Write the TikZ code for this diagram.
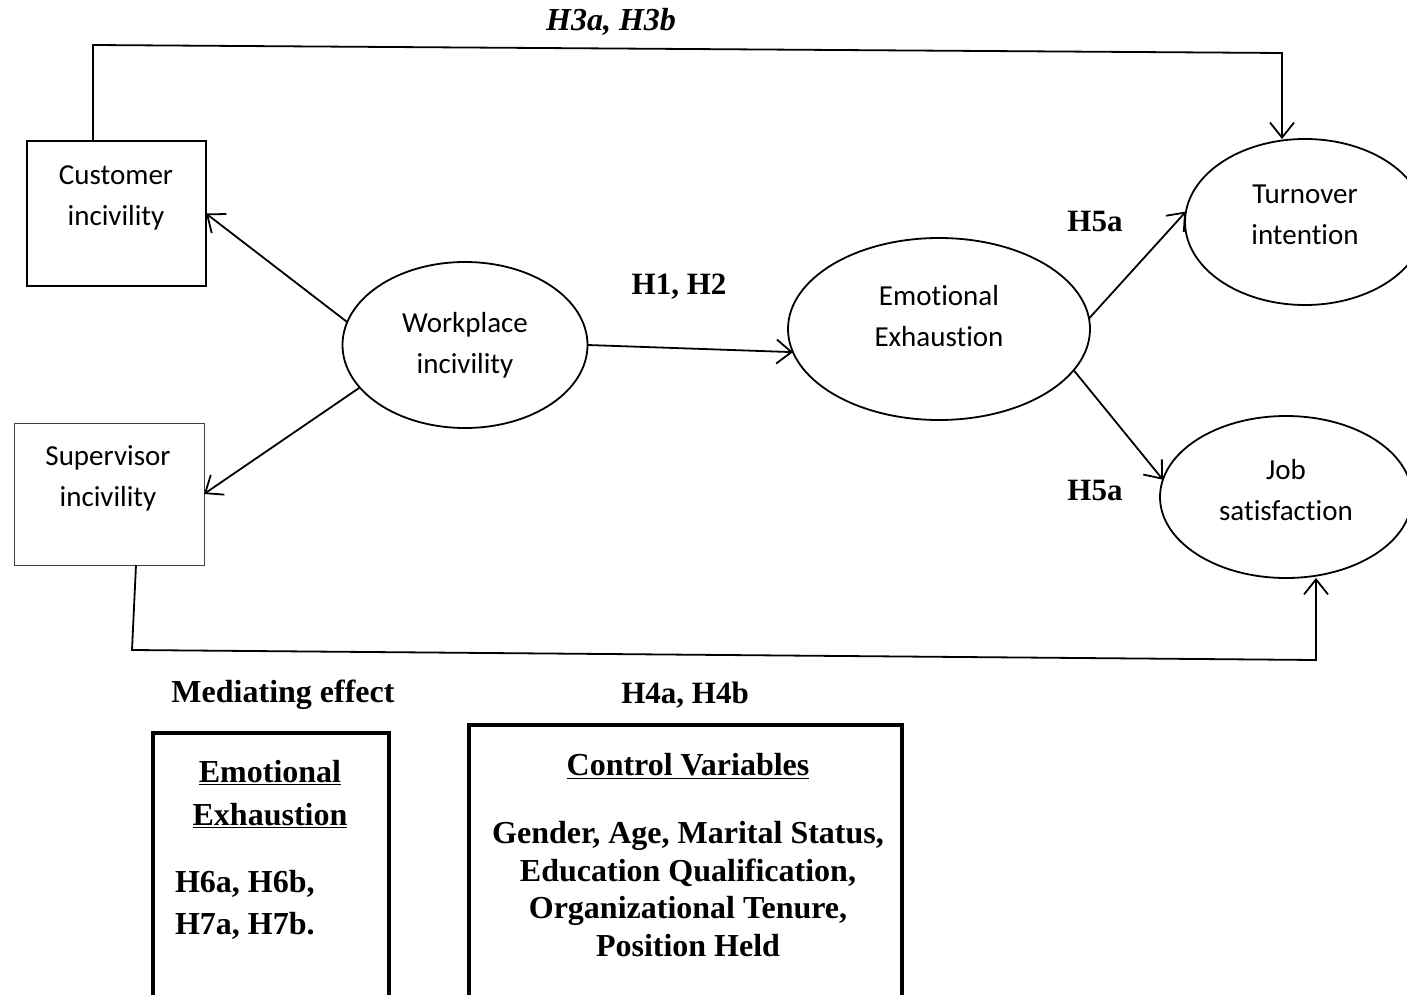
\documentclass[tikz,border=0pt]{standalone}
\usepackage{fontspec}
\setmainfont{Liberation Serif}
\newfontfamily\varfont[Ligatures=NoCommon]{Carlito}
\usetikzlibrary{arrows.meta, shapes.geometric}

\begin{document}
\begin{tikzpicture}
    [
		x=1pt, y=-1pt,
		every node/.style={inner sep=0pt, outer sep=0pt},
		latent/.style 2 args={
			draw, ellipse, line width=1.8pt, minimum width=#1, minimum height=#2
		},
		observed/.style 2 args={
			draw, rectangle, line width=1.8pt, minimum width=#1, minimum height=#2
		},
		frame/.style 2 args={
			draw, rectangle, line width=3.6pt, minimum width=#1, minimum height=#2,
			anchor=north west
		},
		vartext/.style={
			align=center, font=\varfont\fontsize{29}{41}\selectfont
		},
		hyp/.style={
			align=center, font=\bfseries\fontsize{31}{37}\selectfont
		},
		link/.style={
			line width=1.8pt, -{Straight Barb[length=15pt, width=24pt]}
		}
	]

\useasboundingbox (0,0) rectangle (1407,995);
\clip (0,0) rectangle (1407,995);

% Nodes
\node (cust) [observed={179pt}{145pt}] at (116.5,213.5) {};
\node (cust-t) [vartext] at (116,198) {Customer\\incivility};
\node (sup) [observed={190pt}{142pt}, line width=0.9pt, draw=black!75] at (109,494) {};
\node (sup-t) [vartext] at (108,478) {Supervisor\\incivility};
\node (wi) [latent={245pt}{166pt}] at (465,345) {};
\node (wi-t) [vartext] at (465,345) {Workplace\\incivility};
\node (ee) [latent={302pt}{182pt}] at (939,329) {};
\node (ee-t) [vartext] at (939,316) {Emotional\\Exhaustion};
\node (ti) [latent={240pt}{166pt}] at (1305,222) {};
\node (ti-t) [vartext] at (1305,215) {Turnover\\intention};
\node (js) [latent={252pt}{162pt}] at (1286,497) {};
\node (js-t) [vartext] at (1286,490) {Job\\satisfaction};

% Labels
\node (h3) [hyp, font=\bfseries\itshape\fontsize{32}{37}\selectfont] at (611,22) {H3a, H3b};
\node (h12) [hyp] at (679,287) {H1, H2};
\node (h5t) [hyp] at (1095,222) {H5a};
\node (h5j) [hyp] at (1095,490) {H5a};
\node (med) [hyp, font=\bfseries\fontsize{32}{37}\selectfont] at (283,695) {Mediating effect};
\node (h4) [hyp] at (685,695) {H4a, H4b};

% Boxes at the bottom
\node (mbox) [frame={236pt}{300pt}] at (153,733) {};
\node (mbox-t) [hyp, font=\bfseries\fontsize{32}{43}\selectfont] at (270,794)
	{\underline{Emotional}\\\underline{Exhaustion}};
\node (mbox-h) [hyp, align=left, anchor=west, font=\bfseries\fontsize{32}{42}\selectfont]
	at (175,905) {H6a, H6b,\\H7a, H7b.};
\node (cbox) [frame={433pt}{300pt}] at (469,725) {};
\node (cbox-t) [hyp, font=\bfseries\fontsize{32}{37}\selectfont] at (688,766)
	{\underline{Control Variables}};
\node (cbox-l) [hyp, font=\bfseries\fontsize{32}{37.5}\selectfont] at (688,889)
	{Gender, Age, Marital Status,\\Education Qualification,\\Organizational Tenure,\\Position Held};

% Paths
\coordinate (c1) at (93,45);
\coordinate (c2) at (1282,53);
\coordinate (s1) at (132,650);
\coordinate (s2) at (1316,660);

\draw [link] (wi.169) -- (cust.east);
\draw [link] (wi.202) -- (sup.east);
\draw [link] (wi.east) -- (ee.189);
\draw [link] (ee.4) -- (ti.175);
\draw [link] (ee.-17) -- (js.172);

\draw [link] ([xshift=-23.5pt]cust.north) -- (c1) -- (c2) -- (ti.north -| c2);
\draw [link] ([xshift=27pt]sup.south) -- (s1) -- (s2) -- (js.south -| s2);

\end{tikzpicture}
\end{document}
